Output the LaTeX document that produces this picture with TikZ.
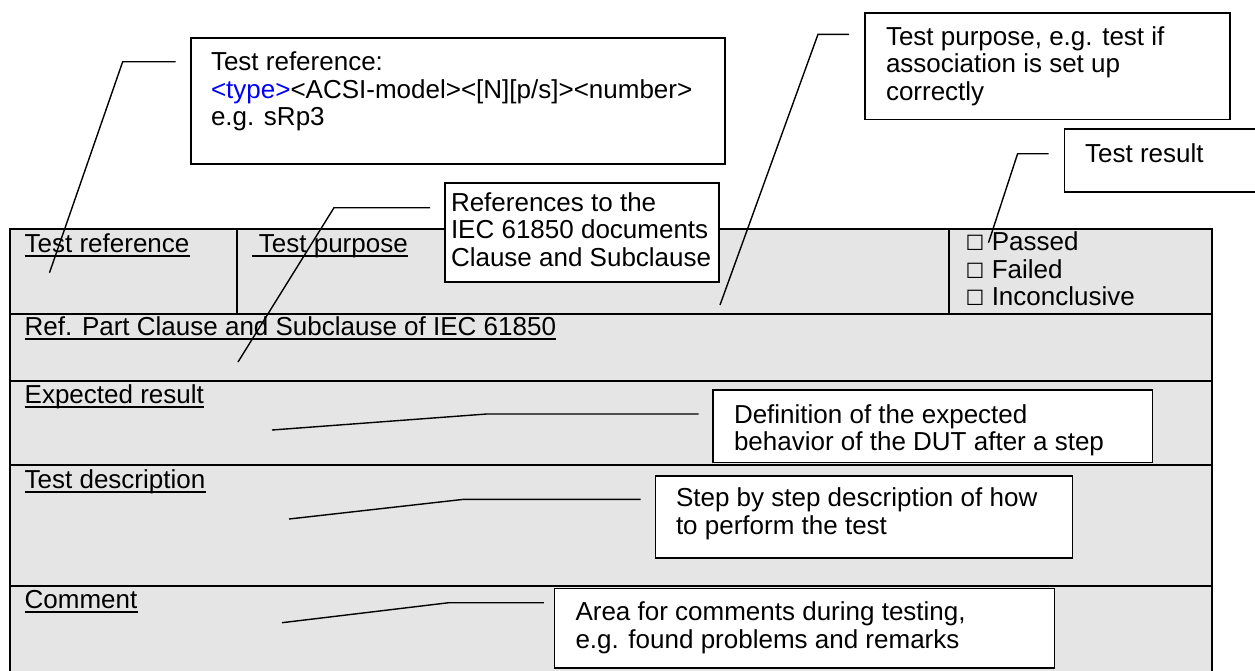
\documentclass[tikz,border=0pt]{standalone}
\usepackage{fontspec}
\setmainfont{Liberation Sans}
\newfontfamily\boxfont{DejaVu Sans}
\usepackage{xcolor}
\usetikzlibrary{positioning,calc}
\definecolor{tablegray}{gray}{0.9}
\newcommand{\boxtext}[3]{\parbox[t][#2][t]{#1}{\raggedright\strut#3\strut}}
\newcommand{\tickbox}{{\boxfont\fontsize{21}{27.5}\selectfont ☐}}

\begin{document}
\begin{tikzpicture}[x=1pt,y=-1pt,
    every node/.style={font=\fontsize{26}{27.5}\selectfont},
    field/.style={anchor=base west, inner sep=0pt},
    callout/.style={draw, fill=white, line width=1.6pt, outer sep=0pt, anchor=north west},
    leader/.style={line width=1.4pt},
    grid/.style={line width=2pt}]
    \clip (0,0) rectangle (1255,670);

    \fill[tablegray] (10,229) rectangle (1212,680);
    \draw[grid] (10,680) -- (10,229) -- (1212,229) -- (1212,680);
    \foreach \y in {313.5,381,464.5,585.7}
        \draw[grid] (10,\y) -- (1212,\y);
    \foreach \x in {237,949}
        \draw[line width=1.5pt] (\x,229) -- (\x,313.5);

    \node[field] (refl) at (24.5,252) {Test reference};
    \node[field] (purposel) at (251.5,252) {\ Test purpose};
    \node[field] (passed) at (965.5,250.7) {\tickbox\ Passed};
    \node[field] (failed) at (965.5,278.2) {\tickbox\ Failed};
    \node[field] (inconcl) at (965.5,305.7) {\tickbox\ Inconclusive};
    \node[field] (clausel) at (24.5,335) {Ref. Part Clause and Subclause of IEC 61850};
    \node[field] (expectl) at (24.5,403) {Expected result};
    \node[field] (descl) at (24.5,488) {Test description};
    \node[field] (commentl) at (24.5,608) {Comment};
    \foreach \n in {refl,purposel,clausel,expectl,descl,commentl}
        \draw[line width=1.6pt] ([shift={(0,4)}]\n.base west) -- ([shift={(0,4)}]\n.base east);

    \coordinate (refpin) at (49.5,272.7);
    \coordinate (purposepin) at (720,305);
    \coordinate (resultpin) at (988.5,242.7);
    \coordinate (clausepin) at (238,362);
    \coordinate (expectpin) at (272,430);
    \coordinate (descpin) at (289,519);
    \coordinate (commentpin) at (282,622.7);

    \node[callout, inner xsep=20pt, inner ysep=14pt] (refnote) at (191,37.7)
        {\boxtext{494pt}{98pt}{Test reference:\\\textcolor{blue}{<type>}<ACSI-model><[N][p/s]><number>\\e.g. sRp3}};
    \node[callout, inner xsep=21pt, inner ysep=12.75pt] (purposenote) at (865,13)
        {\boxtext{323pt}{81pt}{Test purpose, e.g. test if\\association is set up\\correctly}};
    \node[callout, inner xsep=20.5pt, inner ysep=13.75pt] (resultnote) at (1064.6,129)
        {\boxtext{185pt}{35.5pt}{Test result}};
    \node[callout, inner xsep=6pt, inner ysep=8.75pt] (clausenote) at (445,183)
        {\boxtext{262pt}{81.5pt}{References to the\\IEC 61850 documents\\Clause and Subclause}};
    \node[callout, inner xsep=21pt, inner ysep=13.75pt] (expectnote) at (713,390)
        {\boxtext{397.5pt}{44.8pt}{Definition of the expected\\behavior of the DUT after a step}};
    \node[callout, inner xsep=20.5pt, inner ysep=11.75pt] (descnote) at (655.5,475.7)
        {\boxtext{376pt}{58.8pt}{Step by step description of how\\to perform the test}};
    \node[callout, inner xsep=21pt, inner ysep=13.15pt] (commentnote) at (554.5,588.3)
        {\boxtext{458pt}{53.1pt}{Area for comments during testing,\\e.g. found problems and remarks}};

    \draw[leader] ([shift={(-15.5,24)}]refnote.north west) -- ++(-52.8,0) -- (refpin);
    \draw[leader] ([shift={(-16,21.3)}]purposenote.north west) -- ++(-31,0) -- (purposepin);
    \draw[leader] ([shift={(-16,24.7)}]resultnote.north west) -- ++(-31,0) -- (resultpin);
    \draw[leader] ([shift={(-15,24.7)}]clausenote.north west) -- ++(-96,0) -- (clausepin);
    \draw[leader] ([shift={(-14.4,24)}]expectnote.north west) -- ++(-212,0) -- (expectpin);
    \draw[leader] ([shift={(-15,23.6)}]descnote.north west) -- ++(-176.6,0) -- (descpin);
    \draw[leader] ([shift={(-10.7,14.4)}]commentnote.north west) -- ++(-95,0) -- (commentpin);
\end{tikzpicture}
\end{document}
